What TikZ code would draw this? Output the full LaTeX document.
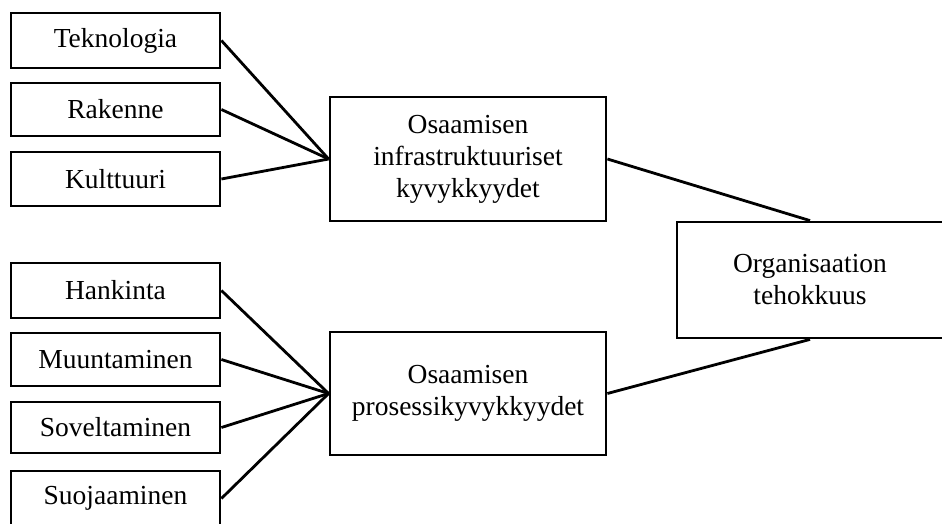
\documentclass[tikz,border=0pt]{standalone}
\usepackage{fontspec}
\setmainfont{Liberation Serif}
\begin{document}
\begin{tikzpicture}[x=1pt,y=-1pt,
  box/.style={draw=black, line width=2.8pt, fill=white, inner sep=0pt, align=center,
    font=\fontsize{27.5}{32}\selectfont},
  leftbox/.style={box, minimum width=209pt, minimum height=55pt},
  link/.style={line width=2.8pt}]
\useasboundingbox (0,0) rectangle (942,524);
\clip (0,0) rectangle (942,524);
\fill[white] (0,0) rectangle (942,524);
% left boxes
\node[leftbox] (tek) at (115.5,40.5) {Teknologia};
\node[leftbox, minimum height=53pt] (rak) at (115.5,109.5) {Rakenne};
\node[leftbox, minimum height=54pt] (kul) at (115.5,179) {Kulttuuri};
\node[leftbox] (han) at (115.5,290.5) {Hankinta};
\node[leftbox, minimum height=53pt] (muu) at (115.5,359.5) {Muuntaminen};
\node[leftbox, minimum height=51pt] (sov) at (115.5,427.5) {Soveltaminen};
\node[leftbox] (suo) at (115.5,498.5) {Suojaaminen};
% middle boxes
\node[box, minimum width=276pt, minimum height=124pt] (inf) at (468,159)
  {Osaamisen\\infrastruktuuriset\\kyvykkyydet};
\node[box, minimum width=276pt, minimum height=123pt] (pro) at (468,393.5)
  {Osaamisen\\prosessikyvykkyydet};
% right box
\node[box, minimum width=266pt, minimum height=116pt] (org) at (810,280)
  {Organisaation\\tehokkuus};
% connectors
\draw[link] (tek.east) -- (inf.west);
\draw[link] (rak.east) -- (inf.west);
\draw[link] (kul.east) -- (inf.west);
\draw[link] (han.east) -- (pro.west);
\draw[link] (muu.east) -- (pro.west);
\draw[link] (sov.east) -- (pro.west);
\draw[link] (suo.east) -- (pro.west);
\draw[link] (inf.east) -- (org.north);
\draw[link] (pro.east) -- (org.south);
\end{tikzpicture}
\end{document}
